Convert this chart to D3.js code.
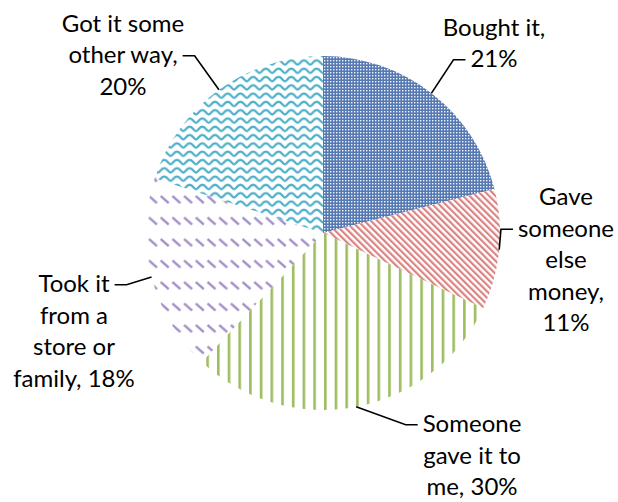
<!DOCTYPE html>
<html>
<head>
<meta charset="utf-8">
<script src="https://cdn.jsdelivr.net/npm/d3@7"></script>
<style>
  html, body { margin: 0; padding: 0; background: #fff; }
  svg { display: block; }
</style>
</head>
<body>
<div id="chart"></div>
<script>
// Data
var categories = ["Bought it", "Gave someone else money", "Someone gave it to me",
                  "Took it from a store or family", "Got it some other way"];
var values = [21, 11, 30, 18, 20];
var labelLines = [
  ["Bought it,", "21%"],
  ["Gave", "someone", "else", "money,", "11%"],
  ["Someone", "gave it to", "me, 30%"],
  ["Took it", "from a", "store or", "family, 18%"],
  ["Got it some", "other way,", "20%"]
];

// Layout
var width = 618, height = 502;
var cx = 323, cy = 233, radius = 177;
var lineHeight = 31.5;
var fontSize = 24;
// label centre x, first baseline y, which line the leader attaches to, side
var labelLayout = [
  { x: 494, y: 35.5, line: 1, side: "left" },
  { x: 566, y: 205, line: 1, side: "left" },
  { x: 472, y: 432, line: 0, side: "left" },
  { x: 74, y: 292, line: 0, side: "right" },
  { x: 123, y: 31.5, line: 1, side: "right" }
];
var fills = ["url(#pBlue)", "url(#pRed)", "url(#pGreen)", "url(#pPurple)", "url(#pAqua)"];

var svg = d3.select("#chart")
            .append("svg")
            .attr("width", width)
            .attr("height", height);

var defs = svg.append("defs");

// blue dotted grid
var pb = defs.append("pattern").attr("id", "pBlue")
  .attr("patternUnits", "userSpaceOnUse").attr("width", 3).attr("height", 3);
pb.append("rect").attr("width", 3).attr("height", 3).attr("fill", "#5679B1");
pb.append("rect").attr("x", 1).attr("y", 1).attr("width", 1.4).attr("height", 1.4).attr("fill", "#F0F4FA");

// red downward diagonal stripes
var pr = defs.append("pattern").attr("id", "pRed")
  .attr("patternUnits", "userSpaceOnUse").attr("width", 4.6).attr("height", 10)
  .attr("patternTransform", "rotate(-45)");
pr.append("rect").attr("width", 4.6).attr("height", 10).attr("fill", "#fff");
pr.append("rect").attr("width", 2.2).attr("height", 10).attr("fill", "#D98483");

// green vertical lines
var pg = defs.append("pattern").attr("id", "pGreen")
  .attr("patternUnits", "userSpaceOnUse").attr("width", 10.7).attr("height", 10);
pg.append("rect").attr("width", 10.7).attr("height", 10).attr("fill", "#fff");
pg.append("rect").attr("x", 1).attr("width", 2.6).attr("height", 10).attr("fill", "#9DBD5E");

// purple dashed diagonal
var pp = defs.append("pattern").attr("id", "pPurple")
  .attr("patternUnits", "userSpaceOnUse").attr("width", 11.7).attr("height", 21.5);
pp.append("rect").attr("width", 11.7).attr("height", 21.5).attr("fill", "#fff");
pp.append("path").attr("d", "M1.5,6 L9.5,13")
  .attr("stroke", "#A08DC6").attr("stroke-width", 2.4).attr("fill", "none");

// aqua waves
var pa = defs.append("pattern").attr("id", "pAqua")
  .attr("patternUnits", "userSpaceOnUse").attr("width", 12.7).attr("height", 8.3);
pa.append("rect").attr("width", 12.7).attr("height", 8.3).attr("fill", "#fff");
pa.append("path").attr("d", "M0,6 C2.2,6 3,1.6 6.35,1.6 C9.7,1.6 10.5,6 12.7,6")
  .attr("stroke", "#4DAFC9").attr("stroke-width", 2.3).attr("fill", "none");

var pie = d3.pie().sort(null).value(function(d) { return d; });
var arc = d3.arc().innerRadius(0).outerRadius(radius);
var arcs = pie(values);

var g = svg.append("g").attr("transform", "translate(" + cx + "," + cy + ")");

g.selectAll("path.slice")
  .data(arcs)
  .enter()
  .append("path")
  .attr("class", "slice")
  .attr("d", arc)
  .attr("fill", function(d, i) { return fills[i]; });

// Labels
var labels = svg.selectAll("text.label")
  .data(labelLines)
  .enter()
  .append("text")
  .attr("class", "label")
  .attr("font-family", "Lato, 'Open Sans', sans-serif")
  .attr("font-size", fontSize + "px")
  .attr("fill", "#000")
  .attr("text-anchor", "middle");

labels.each(function(lines, i) {
  var t = d3.select(this);
  var L = labelLayout[i];
  lines.forEach(function(s, k) {
    t.append("tspan")
      .attr("x", L.x)
      .attr("y", L.y + k * lineHeight)
      .text(s);
  });
});

// Leader lines
arcs.forEach(function(d, i) {
  var L = labelLayout[i];
  var tspan = svg.selectAll("text.label").filter(function(_, j) { return j === i; })
                 .selectAll("tspan").nodes()[L.line];
  var w = tspan.getComputedTextLength();
  var ly = L.y + L.line * lineHeight - fontSize * 0.3;
  var ax = L.side === "left" ? L.x - w / 2 - 5 : L.x + w / 2 + 5;
  var ex = L.side === "left" ? ax - 12 : ax + 12;
  var mid = (d.startAngle + d.endAngle) / 2;
  var px = cx + Math.sin(mid) * radius;
  var py = cy - Math.cos(mid) * radius;
  svg.append("path")
    .attr("d", "M" + px + "," + py + "L" + ex + "," + ly + "L" + ax + "," + ly)
    .attr("fill", "none")
    .attr("stroke", "#000")
    .attr("stroke-width", 1.6);
});
</script>
</body>
</html>
